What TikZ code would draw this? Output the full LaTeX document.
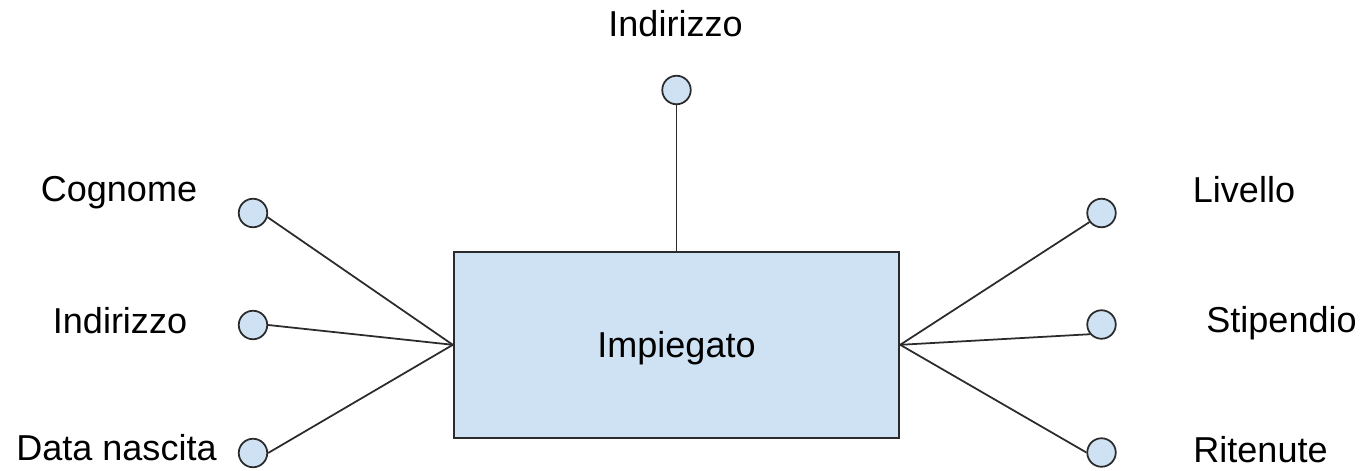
\documentclass[tikz,border=0pt]{standalone}
\usepackage{fontspec}
\setmainfont{Liberation Sans}
\definecolor{attrblue}{HTML}{CFE2F3}
\definecolor{edgegray}{HTML}{2B2B2B}
\tikzset{
  attr/.style={circle, draw=edgegray, fill=attrblue, line width=1pt, minimum size=0.57cm, inner sep=0pt},
  entity/.style={rectangle, draw=edgegray, fill=attrblue, line width=1.1pt, minimum width=8.91cm, minimum height=3.71cm, inner sep=0pt, text depth=0pt},
  lbl/.style={anchor=base, inner sep=0pt},
  link/.style={draw=edgegray, line width=1pt}
}
\begin{document}
\begin{tikzpicture}[x=0.02cm, y=-0.02cm, font=\fontsize{20.5}{24}\selectfont]
        \useasboundingbox (0,0) rectangle (1365,470);

        % Entity
        \node[entity] (imp) at (676.5, 344.8) {Impiegato};

        % Attributes
        \node[attr] (indtop) at (676.5, 90) {};
        \node[attr] (cog) at (253, 213) {};
        \node[attr] (indl) at (253, 325) {};
        \node[attr] (dat) at (253, 453) {};
        \node[attr] (liv) at (1101.5, 213) {};
        \node[attr] (sti) at (1101.5, 324.5) {};
        \node[attr] (rit) at (1101.5, 452.5) {};

        % Edges
        \draw[link] (indtop.south) -- (imp.north);
        \draw[link] (cog.344) -- (imp.west);
        \draw[link] (indl.east) -- (imp.west);
        \draw[link] (dat.east) -- (imp.west);
        \draw[link] (imp.east) -- (liv.217);
        \draw[link] (imp.east) -- (sti.220);
        \draw[link] (imp.east) -- (rit.180);

        % Labels
        \node[lbl] (tindtop) at (675.5, 36.7) {Indirizzo};
        \node[lbl] (tcog) at (119, 201.7) {Cognome};
        \node[lbl] (tindl) at (120, 333) {Indirizzo};
        \node[lbl] (tdat) at (116.5, 460) {Data nascita};
        \node[lbl] (tliv) at (1244, 202) {Livello};
        \node[lbl] (tsti) at (1281.5, 332.7) {Stipendio};
        \node[lbl] (trit) at (1260.5, 462.7) {Ritenute};
    \end{tikzpicture}
\end{document}
